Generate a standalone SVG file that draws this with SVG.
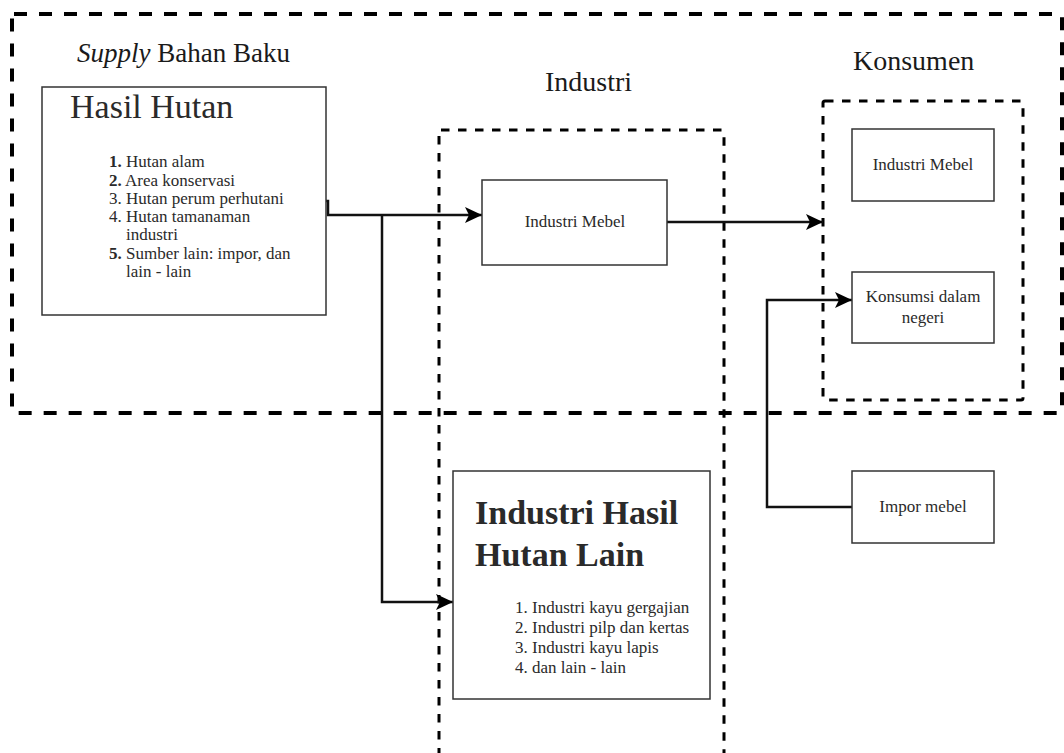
<svg xmlns="http://www.w3.org/2000/svg" width="1064" height="753" viewBox="0 0 1064 753">
<style>
.grp{fill:none;stroke:#000;}
.outer{stroke-width:4;stroke-dasharray:13 12;}
.inner{stroke-width:3;stroke-dasharray:8.5 8.5;}
.box{fill:#fff;stroke:#333;stroke-width:1.5;}
.conn{fill:none;stroke:#111;stroke-width:2.5;}
.t{font-family:"Liberation Serif","Times New Roman",serif;fill:#2a2a2a;}
.big{font-size:28px;fill:#1a1a1a;}
.s{font-size:17px;}
.l{font-size:17px;}
</style>
<defs>
<marker id="arr" markerUnits="userSpaceOnUse" markerWidth="20" markerHeight="18" refX="17" refY="8" orient="auto">
<path d="M0,0 L17,8 L0,16 L4,8 Z" fill="#000"/>
</marker>
</defs>
<rect width="1064" height="753" fill="#fff"/>
<g id="group-supply">
<rect class="grp outer" x="12" y="14" width="1050" height="399" rx="2"/>
<text class="t big" x="77" y="62" style="font-size:27px"><tspan font-style="italic">Supply</tspan> Bahan Baku</text>
</g>
<g id="group-industri">
<rect class="grp inner" x="439" y="130" width="285" height="660" rx="2"/>
<text class="t big" x="545" y="91">Industri</text>
</g>
<g id="group-konsumen">
<rect class="grp inner" x="823" y="101" width="200" height="299" rx="2"/>
<text class="t big" x="853" y="70">Konsumen</text>
</g>
<g id="connectors">
<path class="conn" d="M326,201 H328 V215 H482" marker-end="url(#arr)"/>
<path class="conn" d="M382,215 V602 H453" marker-end="url(#arr)"/>
<path class="conn" d="M667,222 H823" marker-end="url(#arr)"/>
<path class="conn" d="M852,507 H767 V300 H852" marker-end="url(#arr)"/>
</g>
<g id="hasil-hutan">
<rect class="box" x="42" y="87" width="284" height="228"/>
<text class="t" x="70" y="118" font-size="34" fill="#1a1a1a">Hasil Hutan</text>
<text class="t l" x="109" y="167"><tspan font-weight="bold">1.</tspan> Hutan alam</text>
<text class="t l" x="109" y="185.5"><tspan font-weight="bold">2.</tspan> Area konservasi</text>
<text class="t l" x="109" y="203.5">3. Hutan perum perhutani</text>
<text class="t l" x="109" y="222">4. Hutan tamanaman</text>
<text class="t l" x="126" y="240">industri</text>
<text class="t l" x="109" y="258.5"><tspan font-weight="bold">5.</tspan> Sumber lain: impor, dan</text>
<text class="t l" x="126" y="276.5">lain - lain</text>
</g>
<g id="industri-mebel">
<rect class="box" x="482" y="180" width="185" height="85"/>
<text class="t s" x="575" y="227" text-anchor="middle">Industri Mebel</text>
</g>
<g id="industri-hasil-hutan-lain">
<rect class="box" x="453" y="471" width="257" height="228"/>
<text class="t" x="475" y="524" font-size="34" font-weight="bold" fill="#111">Industri Hasil</text>
<text class="t" x="475" y="566" font-size="34" font-weight="bold" fill="#111">Hutan Lain</text>
<text class="t s" x="515" y="613">1. Industri kayu gergajian</text>
<text class="t s" x="515" y="633">2. Industri pilp dan kertas</text>
<text class="t s" x="515" y="653">3. Industri kayu lapis</text>
<text class="t s" x="515" y="673">4. dan lain - lain</text>
</g>
<g id="konsumen-industri-mebel">
<rect class="box" x="852" y="129" width="142" height="72"/>
<text class="t s" x="923" y="170" text-anchor="middle">Industri Mebel</text>
</g>
<g id="konsumsi-dalam-negeri">
<rect class="box" x="852" y="272" width="142" height="71"/>
<text class="t s" x="923" y="302" text-anchor="middle">Konsumsi dalam</text>
<text class="t s" x="923" y="323" text-anchor="middle">negeri</text>
</g>
<g id="impor-mebel">
<rect class="box" x="852" y="471" width="142" height="72"/>
<text class="t s" x="923" y="512" text-anchor="middle">Impor mebel</text>
</g>
</svg>
